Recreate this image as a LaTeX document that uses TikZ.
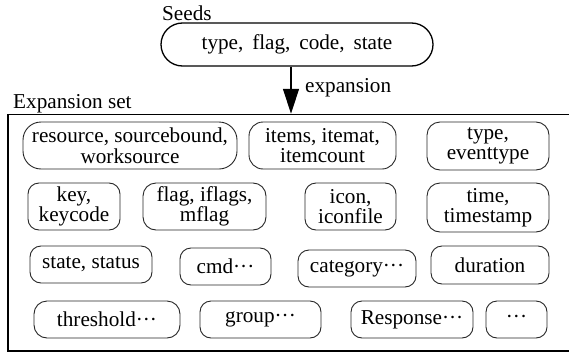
\documentclass[tikz,border=0pt]{standalone}
\usepackage{fontspec}
\setmainfont{Liberation Serif}
\usetikzlibrary{arrows.meta}
\begin{document}
\begin{tikzpicture}[x=1pt,y=-1pt,
  txt/.style={font=\fontsize{21.2}{20.5}\selectfont, inner sep=0pt},
  tag/.style={txt, draw=black!85, line width=0.9pt, rounded corners=11pt,
    align=center},
  seedbox/.style={txt, draw=black, line width=1.3pt, rounded corners=21.5pt,
    minimum width=272pt, minimum height=43pt},
  setbox/.style={draw=black, line width=1.5pt},
  flow/.style={line width=1.4pt, -{Triangle[length=25pt,width=16pt]}}]
\useasboundingbox (0,0) rectangle (569,353);
\clip (0,0) rectangle (569,353);

% seed terms
\node[txt, anchor=base west] (seedlbl) at (162,21) {Seeds};
\node[seedbox] (seeds) at (297,44.5) {type,\ \,flag,\ \,code,\ \,state};

% expansion set frame
\node[txt, anchor=base west] (setlbl) at (13,108.5) {Expansion set};
\node[setbox, minimum width=567pt, minimum height=236.5pt, inner sep=0pt]
  (expset) at (291.5,232.75) {};

% expansion arrow
\coordinate (ax) at (291,80);
\draw[flow] (seeds.south -| ax) -- (expset.north -| ax);
\node[txt, anchor=base west] (explbl) at (305,92) {expansion};

% row 1
\node[tag, rounded corners=18pt, minimum width=214pt, minimum height=47pt] (r1a) at (130,145.5)
  {resource, sourcebound,\\worksource};
\node[tag, rounded corners=14pt, minimum width=147pt, minimum height=47pt] (r1b) at (322.5,145.5)
  {items, itemat,\\itemcount};
\node[tag, rounded corners=13pt, minimum width=122pt, minimum height=48pt] (r1c) at (488,146)
  {type,\\eventtype};

% row 2
\node[tag, minimum width=92pt, minimum height=47pt] (r2a) at (74,206.5)
  {key,\\keycode};
\node[tag, rounded corners=13pt, minimum width=123pt, minimum height=47pt] (r2b) at (204.5,206.5)
  {flag, iflags,\\mflag};
\node[tag, minimum width=91pt, minimum height=47pt] (r2c) at (350.5,206.5)
  {icon,\\iconfile};
\node[tag, rounded corners=13pt, minimum width=122pt, minimum height=49pt] (r2d) at (488,207.5)
  {time,\\timestamp};

% row 3
\node[tag, minimum width=122pt, minimum height=37pt] (r3a) at (91,264.5) {state, status};
\node[tag, minimum width=91pt, minimum height=37pt] (r3b) at (225.5,266.5) {cmd···};
\node[tag, minimum width=118pt, minimum height=37pt] (r3c) at (357,268.5) {category···};
\node[tag, minimum width=118pt, minimum height=38pt] (r3d) at (490,265) {duration};

% row 4
\node[tag, rounded corners=13pt, minimum width=146pt, minimum height=37pt] (r4a) at (107,319.5) {threshold···};
\node[tag, minimum width=121pt, minimum height=37pt] (r4b) at (260.5,319.5) {group···};
\node[tag, minimum width=122pt, minimum height=37pt] (r4c) at (412,319.5) {Response···};
\node[tag, minimum width=61pt, minimum height=37pt] (r4d) at (516.5,319.5) {···};
\end{tikzpicture}
\end{document}
